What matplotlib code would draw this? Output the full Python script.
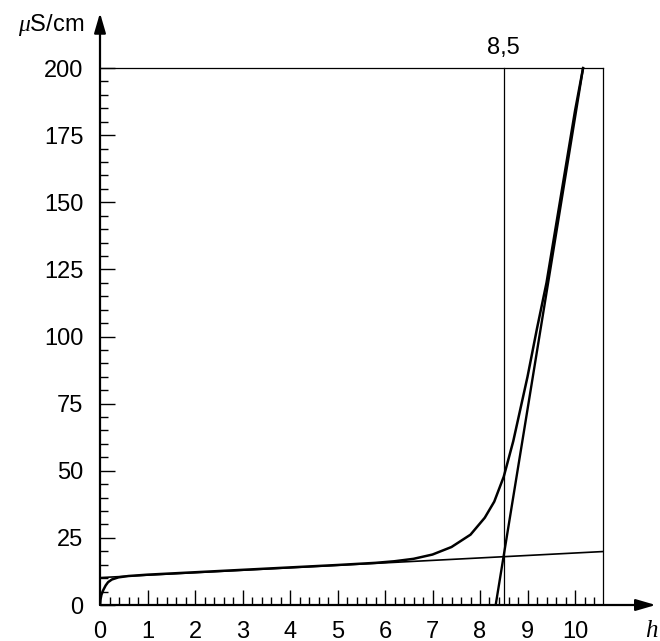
import numpy as np
import matplotlib
matplotlib.use("Agg")
import matplotlib.pyplot as plt

plt.rcParams["font.family"] = ["Liberation Sans", "DejaVu Sans"]
plt.rcParams["mathtext.fontset"] = "custom"
plt.rcParams["mathtext.it"] = "Liberation Serif:italic"
plt.rcParams["mathtext.rm"] = "Liberation Sans"

# conductivity curve
h_curve = [0, 0.01, 0.03, 0.07, 0.12, 0.17, 0.25, 0.39, 0.6, 1, 2, 3, 4, 5,
           5.8, 6.2, 6.6, 7.0, 7.4, 7.8, 8.1, 8.3, 8.5, 8.7, 8.85, 9.0, 9.2,
           9.4, 9.7, 10.0, 10.17]
s_curve = [0, 2.0, 3.8, 5.6, 7.3, 8.5, 9.5, 10.3, 10.8, 11.3, 12.2, 13.1,
           14.0, 14.9, 15.7, 16.3, 17.2, 18.8, 21.6, 26.2, 32.5, 38.5, 47.8,
           61, 73, 85, 103, 120, 152, 184, 200]

# construction lines
h_flat = [0, 10.58]
s_flat = [10.2, 19.9]
h_steep = [8.33, 10.17]
s_steep = [0, 200]
h_mark = 8.5
h_box = 10.58
s_top = 200

fig = plt.figure(figsize=(6.6, 6.41), dpi=100)
ax = fig.add_axes([100 / 660, 36 / 641, 555.75 / 660, 592 / 641])
ax.set_xlim(0, 11.7)
ax.set_ylim(0, 220.5)
for sp in ax.spines.values():
    sp.set_visible(False)

# box and marker line
ax.plot([0, h_box], [s_top, s_top], color="black", lw=0.9)
ax.plot([h_box, h_box], [0, s_top], color="black", lw=0.9)
ax.plot([h_mark, h_mark], [0, s_top], color="black", lw=0.9)

ax.plot(h_flat, s_flat, color="black", lw=1.2)
ax.plot(h_steep, s_steep, color="black", lw=1.7, solid_capstyle="butt")
ax.plot(h_curve, s_curve, color="black", lw=1.8)

# axes with arrows
arrow = dict(arrowstyle="-|>,head_length=1.2,head_width=0.35", color="black",
             lw=1.6, shrinkA=0, shrinkB=0)
ax.annotate("", xy=(11.7, 0), xytext=(0, 0), arrowprops=arrow, annotation_clip=False)
ax.annotate("", xy=(0, 220.5), xytext=(0, 0), arrowprops=arrow, annotation_clip=False)

ax.set_xticks(np.arange(0, 11, 1))
ax.set_xticks([t for t in np.arange(0.2, 10.5, 0.2) if abs(t - round(t)) > 1e-6], minor=True)
ax.set_yticks(np.arange(0, 201, 25))
ax.set_yticks([t for t in range(5, 200, 5) if t % 25], minor=True)
ax.tick_params(which="both", direction="in", width=1.0, labelsize=17)
ax.tick_params(which="major", length=11)
ax.tick_params(which="minor", length=6)
ax.tick_params(axis="x", pad=11.5)
ax.tick_params(axis="y", pad=12)

ax.text(11.62, -9.3, "$h$", fontsize=18, ha="center", va="center")
ax.text(-0.33, 216, r"$\mu$S/cm", fontsize=17, ha="right", va="center")
ax.text(h_mark, 207.4, "8,5", fontsize=17, ha="center", va="center")

fig.savefig("out.png", dpi=100)
